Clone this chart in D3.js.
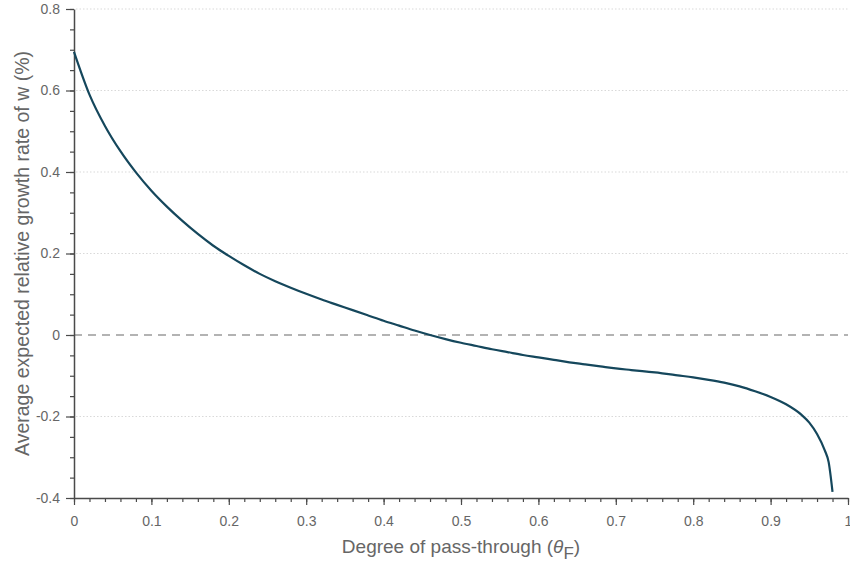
<!DOCTYPE html>
<html>
<head>
<meta charset="utf-8">
<script src="https://cdn.jsdelivr.net/npm/d3@7"></script>
<style>
  html, body { margin: 0; padding: 0; background: #fff; }
  svg { display: block; font-family: "Liberation Sans", Arial, sans-serif; }
</style>
</head>
<body>
<svg id="chart" width="850" height="565"></svg>
<script>
// ---- data ----
const thetaF = [0, 0.02, 0.04, 0.06, 0.08, 0.10, 0.12, 0.14, 0.16, 0.18, 0.20, 0.22, 0.24, 0.26, 0.28, 0.30,
  0.32, 0.34, 0.36, 0.38, 0.40, 0.42, 0.44, 0.46, 0.48, 0.50, 0.52, 0.54, 0.56, 0.58, 0.60, 0.62, 0.64,
  0.66, 0.68, 0.70, 0.72, 0.74, 0.76, 0.78, 0.80, 0.82, 0.84, 0.86, 0.88, 0.90, 0.92, 0.94, 0.95, 0.96,
  0.97, 0.975, 0.98];
const growthRate = [0.695, 0.590, 0.513, 0.451, 0.399, 0.354, 0.315, 0.280, 0.248, 0.219, 0.194, 0.171,
  0.150, 0.132, 0.116, 0.101, 0.087, 0.074, 0.061, 0.048, 0.035, 0.023, 0.011, 0.000, -0.010, -0.019,
  -0.027, -0.035, -0.042, -0.049, -0.055, -0.061, -0.067, -0.072, -0.077, -0.082, -0.086, -0.090, -0.094,
  -0.099, -0.104, -0.110, -0.117, -0.126, -0.138, -0.152, -0.170, -0.196, -0.215, -0.243, -0.283, -0.312,
  -0.385];
const xTicks = [0, 0.1, 0.2, 0.3, 0.4, 0.5, 0.6, 0.7, 0.8, 0.9, 1];
const xTickLabels = ["0", "0.1", "0.2", "0.3", "0.4", "0.5", "0.6", "0.7", "0.8", "0.9", "1"];
const yTicks = [-0.4, -0.2, 0, 0.2, 0.4, 0.6, 0.8];
const yTickLabels = ["-0.4", "-0.2", "0", "0.2", "0.4", "0.6", "0.8"];
const yGridValues = [-0.2, 0.2, 0.4, 0.6, 0.8];
const xLabelText = "Degree of pass-through (";
const yLabelText = "Average expected relative growth rate of w (%)";

// ---- layout ----
const svg = d3.select("#chart");
const mLeft = 74, mRight = 848, mTop = 9, mBottom = 498;
const x = d3.scaleLinear().domain([0, 1]).range([mLeft, mRight]);
const y = d3.scaleLinear().domain([-0.4, 0.8]).range([mBottom, mTop]);
const axisColor = "#4a4a4a";
const textColor = "#666666";

// gridlines (dotted)
svg.append("g").selectAll("line").data(yGridValues).join("line")
  .attr("x1", mLeft + 2).attr("x2", mRight)
  .attr("y1", d => y(d)).attr("y2", d => y(d))
  .attr("stroke", "#d9d9d9").attr("stroke-width", 1)
  .attr("stroke-dasharray", "1.5,2");

// zero reference line (dashed)
svg.append("line")
  .attr("x1", mLeft).attr("x2", mRight)
  .attr("y1", y(0)).attr("y2", y(0))
  .attr("stroke", "#9a9a9a").attr("stroke-width", 1.5)
  .attr("stroke-dasharray", "8,6");

// minor ticks
const xMinor = d3.range(0, 1.0001, 0.02);
const yMinor = d3.range(-0.4, 0.8001, 0.05);

const xAxisG = svg.append("g").attr("transform", `translate(0,${mBottom})`);
xAxisG.call(d3.axisBottom(x).tickValues(xMinor).tickSize(4).tickFormat(""));
xAxisG.call(g => g.select(".domain").remove());
svg.append("g").attr("transform", `translate(0,${mBottom})`)
  .call(d3.axisBottom(x).tickValues(xTicks).tickSize(7).tickSizeOuter(0)
    .tickFormat((d, i) => xTickLabels[i]).tickPadding(11));

const yAxisG = svg.append("g").attr("transform", `translate(${mLeft},0)`);
yAxisG.call(d3.axisLeft(y).tickValues(yMinor).tickSize(4).tickFormat(""));
yAxisG.call(g => g.select(".domain").remove());
svg.append("g").attr("transform", `translate(${mLeft},0)`)
  .call(d3.axisLeft(y).tickValues(yTicks).tickSize(8).tickSizeOuter(0)
    .tickFormat((d, i) => yTickLabels[i]).tickPadding(6));

svg.selectAll(".domain").attr("stroke", axisColor).attr("stroke-width", 1.5);
svg.selectAll(".tick line").attr("stroke", axisColor).attr("stroke-width", 1.2);
svg.selectAll(".tick text").attr("fill", textColor)
  .style("font-family", "'Liberation Sans', Arial, sans-serif").style("font-size", "14px");

// curve
const data = thetaF.map((t, i) => ({ t, v: growthRate[i] }));
svg.append("path").datum(data)
  .attr("fill", "none")
  .attr("stroke", "#15475c")
  .attr("stroke-width", 2.2)
  .attr("stroke-linejoin", "round")
  .attr("d", d3.line().x(d => x(d.t)).y(d => y(d.v)).curve(d3.curveMonotoneX));

// axis labels
const xl = svg.append("text")
  .attr("x", (mLeft + mRight) / 2).attr("y", 553)
  .attr("text-anchor", "middle")
  .attr("fill", textColor)
  .style("font-size", "19px");
xl.append("tspan").text(xLabelText);
xl.append("tspan").style("font-style", "italic").text("θ");
xl.append("tspan").attr("dy", 6).style("font-size", "17px").text("F");
xl.append("tspan").attr("dy", -6).text(")");

svg.append("text")
  .attr("transform", `translate(29,${(mTop + mBottom) / 2}) rotate(-90)`)
  .attr("text-anchor", "middle")
  .attr("fill", textColor)
  .style("font-size", "19.5px")
  .text(yLabelText);
</script>
</body>
</html>
